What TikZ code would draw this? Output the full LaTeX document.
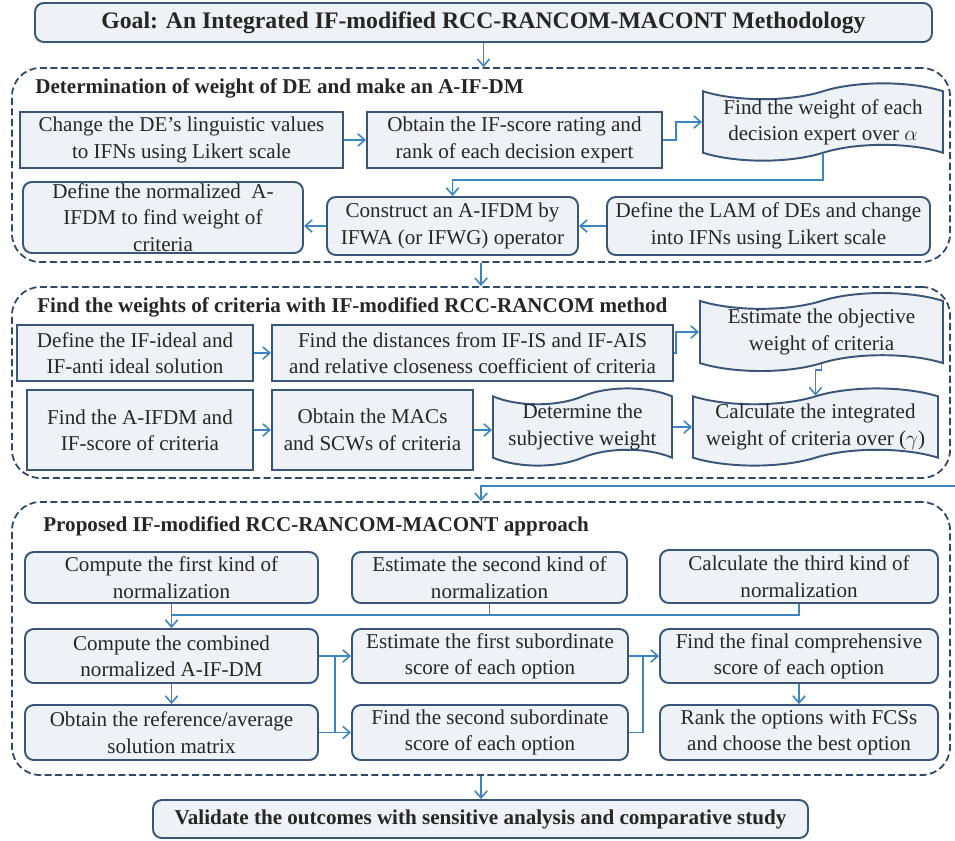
\documentclass[tikz,border=0pt]{standalone}
\usepackage{fontspec}
\setmainfont{Liberation Serif}
\usetikzlibrary{shapes.symbols,arrows.meta}

\definecolor{boxfill}{HTML}{EEF1F6}
\definecolor{boxline}{HTML}{3A5677}
\definecolor{flowblue}{HTML}{3D85C0}
\definecolor{dashline}{HTML}{2E4868}

\begin{document}
\begin{tikzpicture}
    [x=0.02cm,y=-0.02cm,
     every node/.style={font=\fontsize{12}{15}\selectfont, align=center, inner sep=0pt, text=black!85},
     sz/.style 2 args={minimum width=#1*0.02cm, minimum height=#2*0.02cm},
     box/.style={draw=boxline, fill=boxfill, line width=1.1pt},
     rbox/.style={box, rounded corners=5pt},
     tp/.style={box, tape, tape bend height=9pt},
     sect/.style={draw=dashline, dash pattern=on 4pt off 2pt, line width=1pt, rounded corners=16pt},
     head/.style={font=\fontsize{12}{15}\selectfont\bfseries, anchor=west},
     arr/.style={draw=flowblue, line width=0.9pt, -{Straight Barb[length=4pt,width=7pt]}},
     conn/.style={draw=flowblue, line width=0.9pt}]
  \useasboundingbox (0,0) rectangle (955,840);

  % blocks
  \node[sect, sz={938}{194}] (sec1) at (481,165) {};
  \node[sect, sz={938}{191}] (sec2) at (481,382.5) {};
  \node[sect, sz={938}{273}] (sec3) at (481,638.5) {};
  \node[head] (t1) at (35,88) {Determination of weight of DE and make an A-IF-DM};
  \node[head] (t2) at (37,307) {Find the weights of criteria with IF-modified RCC-RANCOM method};
  \node[head] (t3) at (43,526) {Proposed IF-modified RCC-RANCOM-MACONT approach};

  \node[rbox, sz={897}{39}, font=\fontsize{13.5}{16}\selectfont\bfseries] (goal) at (483.5,22.5) {Goal: An Integrated IF-modified RCC-RANCOM-MACONT Methodology};

  % weight of DE
  \node[box, sz={323}{56}] (a1) at (181.5,140) {Change the DE's linguistic values\\to IFNs using Likert scale};
  \node[box, sz={295}{56}] (a2) at (514.5,140) {Obtain the IF-score rating and\\rank of each decision expert};
  \node[tp, sz={240}{72}] (a3) at (823,122) {Find the weight of each\\decision expert over $\alpha$};
  \node[rbox, sz={280}{71}] (b1) at (163,217.5) {Define the normalized \ A-\\IFDM to find weight of\\criteria};
  \node[rbox, sz={251}{58}] (b2) at (452.5,226) {Construct an A-IFDM by\\IFWA (or IFWG) operator};
  \node[rbox, sz={323}{58}] (b3) at (768.5,226) {Define the LAM of DEs and change\\into IFNs using Likert scale};

  % weights of criteria
  \node[box, sz={236}{56}] (c1) at (135,353) {Define the IF-ideal and\\IF-anti ideal solution};
  \node[box, sz={401}{56}] (c2) at (472.5,353) {Find the distances from IF-IS and IF-AIS\\and relative closeness coefficient of criteria};
  \node[tp, sz={243}{78}] (c3) at (821.5,332) {Estimate the objective\\weight of criteria};
  \node[box, sz={226}{80}] (c4) at (140,430) {Find the A-IFDM and\\IF-score of criteria};
  \node[box, sz={201}{80}] (c5) at (372.5,430) {Obtain the MACs\\and SCWs of criteria};
  \node[tp, sz={179}{70}] (c6) at (582.5,427) {Determine the\\subjective weight};
  \node[tp, sz={245}{70}] (c7) at (815.5,427) {Calculate the integrated\\weight of criteria over ($\gamma$)};

  % MACONT
  \node[rbox, sz={293}{51}] (d1) at (171.5,577.5) {Compute the first kind of\\normalization};
  \node[rbox, sz={275}{51}] (d2) at (489.5,577.5) {Estimate the second kind of\\normalization};
  \node[rbox, sz={278}{53}] (d3) at (799,576.5) {Calculate the third kind of\\normalization};
  \node[rbox, sz={293}{54}] (d4) at (171.5,656) {Compute the combined\\normalized A-IF-DM};
  \node[rbox, sz={276}{54}] (d5) at (490,656) {Estimate the first subordinate\\score of each option};
  \node[rbox, sz={278}{54}] (d6) at (799,656) {Find the final comprehensive\\score of each option};
  \node[rbox, sz={293}{55}] (d7) at (171.5,732.5) {Obtain the reference/average\\solution matrix};
  \node[rbox, sz={276}{55}] (d8) at (490,732.5) {Find the second subordinate\\score of each option};
  \node[rbox, sz={278}{55}] (d9) at (799,732.5) {Rank the options with FCSs\\and choose the best option};

  \node[rbox, sz={655}{38}, font=\fontsize{12}{15}\selectfont\bfseries] (val) at (480.5,819) {Validate the outcomes with sensitive analysis and comparative study};

  % joints
  \coordinate (ja) at (676,0);
  \coordinate (jb) at (0,180);
  \coordinate (jd) at (0,615);
  \coordinate (bus1) at (335,0);
  \coordinate (bus2) at (643,0);
  \coordinate (edge) at (957,486);

  \foreach \from/\to in {a1/a2, c1/c2, c4/c5, c5/c6, c6/c7, d4/d5, d7/d8, d5/d6}
    \draw[arr] (\from.east) -- (\from.east -| \to.west);
  \foreach \from/\to in {b3/b2, b2/b1}
    \draw[arr] (\from.west) -- (\from.west -| \to.east);
  \foreach \from/\to in {d1/d4, d4/d7, d6/d9}
    \draw[arr] (\from) -- (\to);

  \draw[arr] (a2.east) -- (a2.east -| ja) |- (a3.west);
  \draw[arr] (c2.east) -- (c2.east -| ja) |- (c3.west);
  \draw[arr] (a3.south) |- (b2.north |- jb) -- (b2.north);
  \draw[arr] (c3.south) -- ++(0,6) -| (c7.north);
  \draw[conn] (d3.south) |- (d1.south |- jd);
  \draw[conn] (d2.south) -- (d2.south |- jd);
  \draw[conn] (d4.east -| bus1) -- (d7.east -| bus1);
  \draw[conn] (d8.east) -| (d5.east -| bus2);

  \draw[arr] (goal.south) -- (goal.south |- sec1.north);
  \draw[arr] (sec1.south) -- (sec2.north);
  \draw[arr] (edge) -| (sec3.north);
  \draw[arr] (sec3.south) -- (sec3.south |- val.north);
\end{tikzpicture}
\end{document}
